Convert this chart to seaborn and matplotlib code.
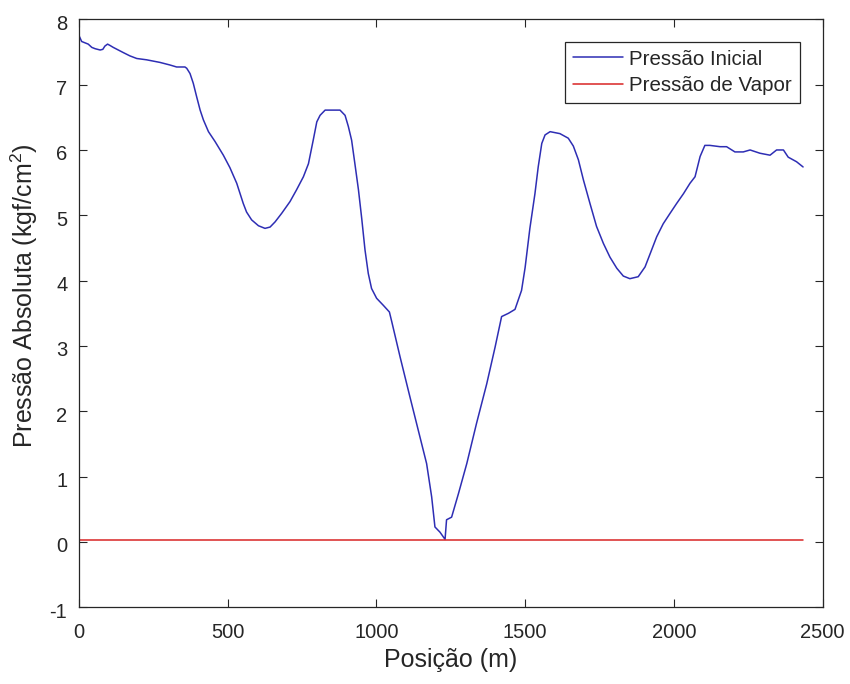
import matplotlib
matplotlib.use("Agg")
import matplotlib.pyplot as plt
import matplotlib.transforms as mtransforms
import seaborn as sns
import pandas as pd

# Pressure profile along the pipeline
posicao = [0, 10, 21, 32, 44, 55, 72, 81, 88, 97, 105, 116, 133, 150, 172, 195,
           228, 273, 307, 329, 357, 363, 374, 385, 396, 408, 419, 436, 458, 486,
           508, 531, 553, 564, 581, 604, 626, 643, 660, 682, 710, 732, 755, 772,
           788, 800, 811, 828, 878, 895, 906, 917, 928, 940, 951, 962, 973, 984,
           1001, 1024, 1044, 1052, 1080, 1113, 1141, 1169, 1186, 1197, 1214,
           1231, 1236, 1253, 1276, 1304, 1337, 1371, 1399, 1421, 1444, 1466,
           1488, 1500, 1516, 1533, 1544, 1556, 1567, 1584, 1617, 1645, 1662,
           1679, 1696, 1718, 1740, 1763, 1785, 1808, 1830, 1852, 1880, 1903,
           1920, 1942, 1964, 1987, 2009, 2032, 2054, 2071, 2088, 2104, 2121,
           2155, 2177, 2205, 2233, 2256, 2289, 2323, 2345, 2368, 2384, 2412,
           2434]
pressao_inicial = [7.76, 7.66, 7.64, 7.62, 7.57, 7.55, 7.53, 7.54, 7.59, 7.62,
                   7.60, 7.57, 7.53, 7.49, 7.44, 7.40, 7.38, 7.34, 7.30, 7.27,
                   7.27, 7.25, 7.17, 7.02, 6.82, 6.61, 6.46, 6.28, 6.13, 5.92,
                   5.73, 5.49, 5.18, 5.05, 4.93, 4.84, 4.80, 4.82, 4.90, 5.03,
                   5.21, 5.39, 5.59, 5.79, 6.15, 6.43, 6.53, 6.61, 6.61, 6.53,
                   6.36, 6.15, 5.79, 5.39, 4.95, 4.47, 4.11, 3.88, 3.73, 3.62,
                   3.52, 3.37, 2.83, 2.22, 1.71, 1.20, 0.69, 0.23, 0.15, 0.04,
                   0.34, 0.38, 0.74, 1.20, 1.82, 2.42, 2.98, 3.45, 3.50, 3.56,
                   3.85, 4.20, 4.80, 5.33, 5.74, 6.10, 6.23, 6.28, 6.25, 6.18,
                   6.06, 5.85, 5.54, 5.18, 4.83, 4.57, 4.36, 4.19, 4.07, 4.03,
                   4.06, 4.21, 4.41, 4.67, 4.87, 5.03, 5.18, 5.33, 5.49, 5.59,
                   5.90, 6.07, 6.07, 6.05, 6.05, 5.97, 5.97, 6.00, 5.95, 5.92,
                   6.00, 6.00, 5.89, 5.82, 5.74]

# Vapour pressure of water (constant)
posicao_vapor = [0, 2434]
pressao_vapor = [0.03, 0.03]

x_ticks = [0, 500, 1000, 1500, 2000, 2500]
y_ticks = [-1, 0, 1, 2, 3, 4, 5, 6, 7, 8]

sns.set_theme(style="white")
plt.rcParams["font.family"] = ["Liberation Sans", "DejaVu Sans"]
plt.rcParams["mathtext.fontset"] = "custom"
plt.rcParams["mathtext.rm"] = "Liberation Sans"
plt.rcParams["axes.unicode_minus"] = False

fig = plt.figure(figsize=(8.5, 6.84), dpi=100)
ax = fig.add_axes([0.0926, 0.1121, 0.8753, 0.8597])

df_ini = pd.DataFrame({"x": posicao, "y": pressao_inicial})
df_vap = pd.DataFrame({"x": posicao_vapor, "y": pressao_vapor})

sns.lineplot(data=df_ini, x="x", y="y", ax=ax, color="#2e2eb4", lw=1.1,
             estimator=None, sort=False, label="Pressão Inicial")
sns.lineplot(data=df_vap, x="x", y="y", ax=ax, color="#d82424", lw=1.1,
             estimator=None, sort=False, label="Pressão de Vapor")

ax.set_xlim(0, 2500)
ax.set_ylim(-1, 8)
ax.set_xticks(x_ticks)
ax.set_yticks(y_ticks)

dark = "#262626"
for s in ax.spines.values():
    s.set_color(dark)
    s.set_linewidth(0.9)
    s.set_visible(True)

ax.tick_params(axis="both", which="both", direction="in", length=5.5, width=0.8,
               color=dark, labelcolor=dark, labelsize=14.5,
               top=True, right=True, bottom=True, left=True)
ax.tick_params(axis="x", pad=11)
ax.tick_params(axis="y", pad=8.2)

# y tick labels sit slightly below their ticks
shift = mtransforms.ScaledTranslation(0, -2 / 72, fig.dpi_scale_trans)
for lbl in ax.get_yticklabels():
    lbl.set_transform(lbl.get_transform() + shift)

ax.set_xlabel("Posição (m)", fontsize=18, color=dark)
ax.set_ylabel("Pressão Absoluta (kgf/cm$^2$)", fontsize=18, color=dark)
ax.xaxis.set_label_coords(0.5, -0.07)
ax.yaxis.set_label_coords(-0.052, 0.53)

leg = ax.legend(loc="upper right", bbox_to_anchor=(0.9695, 0.9619), fontsize=14.8,
                frameon=True, fancybox=False, edgecolor=dark, framealpha=1,
                handlelength=2.45, handletextpad=0.3, borderpad=0.38,
                labelspacing=0.36, borderaxespad=0)
leg.get_frame().set_linewidth(0.9)
for t in leg.get_texts():
    t.set_color(dark)

fig.savefig("out.png", dpi=100, facecolor="white")
